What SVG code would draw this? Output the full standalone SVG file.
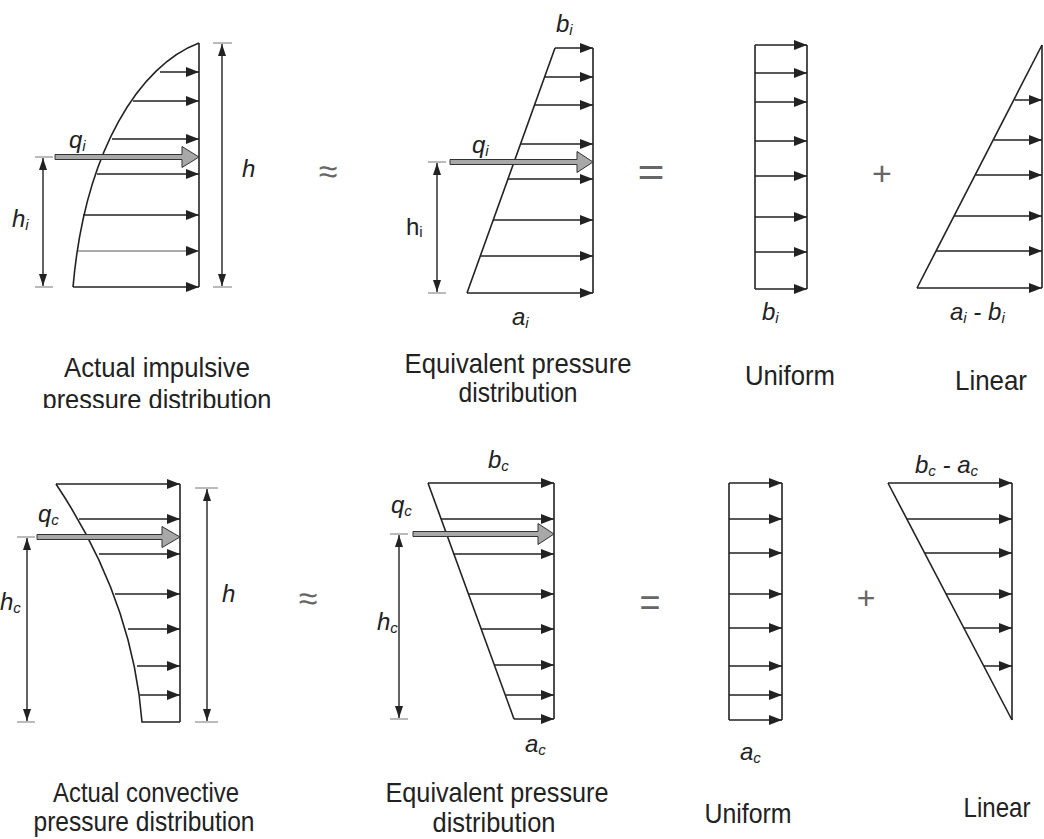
<svg xmlns="http://www.w3.org/2000/svg" width="1044" height="839" viewBox="0 0 1044 839">
<style>
.ln{stroke:#222;stroke-width:1.6;fill:none}
.arr{stroke:#222;stroke-width:1.5;marker-end:url(#ah)}
.thin{stroke:#555;stroke-width:1;marker-end:url(#ah)}
.dim{stroke:#222;stroke-width:1.4;marker-start:url(#dh);marker-end:url(#dh)}
.tick{stroke:#777;stroke-width:1}
.big{fill:#a8a8a8;stroke:#333;stroke-width:1}
.m{font-family:"Liberation Sans",Arial,sans-serif;font-style:italic;font-size:24px;fill:#222}
.up{font-family:"Liberation Sans",Arial,sans-serif;font-size:24px;fill:#222}
.cap{font-family:"Liberation Sans",Arial,sans-serif;font-size:28px;fill:#222;text-anchor:middle}
.op{font-family:"Liberation Sans",Arial,sans-serif;fill:#666;text-anchor:middle}
</style>
<defs>
<marker id="ah" markerUnits="userSpaceOnUse" markerWidth="14" markerHeight="11" refX="13" refY="5" orient="auto"><path d="M0,0 L13,5 L0,10 Z" fill="#222"/></marker>
<marker id="dh" markerUnits="userSpaceOnUse" markerWidth="13" markerHeight="9" refX="12" refY="4" orient="auto-start-reverse"><path d="M0,0 L12,4 L0,8 Z" fill="#222"/></marker>
<clipPath id="cut"><rect x="0" y="0" width="1044" height="408"/></clipPath>
</defs>

<g id="impulsive-actual">
<line class="ln" x1="199" y1="43" x2="199" y2="287"/>
<path class="ln" d="M199,43 C140,65 85,150 73,287"/>
<line class="arr" x1="160" y1="72" x2="199" y2="72"/>
<line class="arr" x1="133" y1="101" x2="199" y2="101"/>
<line class="arr" x1="112" y1="139" x2="199" y2="139"/>
<line class="arr" x1="97" y1="174" x2="199" y2="174"/>
<line class="arr" x1="83" y1="215" x2="199" y2="215"/>
<line class="thin" x1="78" y1="251" x2="199" y2="251"/>
<line class="arr" x1="73" y1="287" x2="199" y2="287"/>
<path class="big" d="M55,154.5 H182 V146.5 L199,157 L182,167.5 V159.5 H55 Z"/>
<line class="tick" x1="35" y1="157" x2="53" y2="157"/>
<line class="tick" x1="35" y1="287" x2="53" y2="287"/>
<line class="dim" x1="43" y1="158" x2="43" y2="286"/>
<line class="tick" x1="213" y1="43" x2="232" y2="43"/>
<line class="tick" x1="213" y1="287" x2="232" y2="287"/>
<line class="dim" x1="222" y1="44" x2="222" y2="286"/>
<text class="m" x="69" y="148">q<tspan font-size="15" dy="3">i</tspan></text>
<text class="m" x="12" y="227">h<tspan font-size="15" dy="3">i</tspan></text>
<text class="m" x="242" y="177" font-size="26">h</text>
<text class="cap" x="157" y="377" textLength="186" lengthAdjust="spacingAndGlyphs">Actual impulsive</text>
<text class="cap" x="157" y="409" textLength="229" lengthAdjust="spacingAndGlyphs" clip-path="url(#cut)">pressure distribution</text>
</g>

<text id="approx-top" class="op" x="328" y="183" font-size="34">≈</text>

<g id="impulsive-equivalent">
<line class="ln" x1="593" y1="48" x2="593" y2="293"/>
<line class="ln" x1="555" y1="48" x2="467" y2="293"/>
<line class="arr" x1="555" y1="48" x2="593" y2="48"/>
<line class="arr" x1="544.6" y1="77" x2="593" y2="77"/>
<line class="arr" x1="534.5" y1="105" x2="593" y2="105"/>
<line class="arr" x1="520.5" y1="144" x2="593" y2="144"/>
<line class="arr" x1="508" y1="179" x2="593" y2="179"/>
<line class="arr" x1="493" y1="220" x2="593" y2="220"/>
<line class="arr" x1="480" y1="256" x2="593" y2="256"/>
<line class="arr" x1="467" y1="293" x2="593" y2="293"/>
<path class="big" d="M450,159.5 H577 V151.5 L593,162 L577,172.5 V164.5 H450 Z"/>
<line class="tick" x1="428" y1="162" x2="446" y2="162"/>
<line class="tick" x1="428" y1="293" x2="446" y2="293"/>
<line class="dim" x1="437" y1="163" x2="437" y2="292"/>
<text class="m" x="556" y="32">b<tspan font-size="15" dy="3">i</tspan></text>
<text class="m" x="472" y="153">q<tspan font-size="15" dy="3">i</tspan></text>
<text class="up" x="406" y="235">h<tspan font-size="15" dy="2">i</tspan></text>
<text class="m" x="512" y="325">a<tspan font-size="15" dy="3">i</tspan></text>
<text class="cap" x="518" y="373" textLength="227" lengthAdjust="spacingAndGlyphs">Equivalent pressure</text>
<text class="cap" x="518" y="402" textLength="119" lengthAdjust="spacingAndGlyphs">distribution</text>
</g>

<text id="equals-top" class="op" x="651" y="186" font-size="40" textLength="27" lengthAdjust="spacingAndGlyphs">=</text>

<g id="impulsive-uniform">
<line class="ln" x1="755" y1="45" x2="755" y2="289"/>
<line class="ln" x1="807" y1="45" x2="807" y2="289"/>
<line class="arr" x1="755" y1="45" x2="807" y2="45"/>
<line class="arr" x1="755" y1="73" x2="807" y2="73"/>
<line class="arr" x1="755" y1="102" x2="807" y2="102"/>
<line class="arr" x1="755" y1="141" x2="807" y2="141"/>
<line class="arr" x1="755" y1="176" x2="807" y2="176"/>
<line class="arr" x1="755" y1="217" x2="807" y2="217"/>
<line class="arr" x1="755" y1="252" x2="807" y2="252"/>
<line class="arr" x1="755" y1="289" x2="807" y2="289"/>
<text class="m" x="762" y="320">b<tspan font-size="15" dy="3">i</tspan></text>
<text class="cap" x="790" y="385" textLength="90" lengthAdjust="spacingAndGlyphs">Uniform</text>
</g>

<text id="plus-top" class="op" x="882" y="185" font-size="34">+</text>

<g id="impulsive-linear">
<line class="ln" x1="1042" y1="45" x2="1042" y2="288"/>
<line class="ln" x1="1042" y1="45" x2="917" y2="288"/>
<line class="arr" x1="1014.5" y1="100" x2="1042" y2="100"/>
<line class="arr" x1="993.7" y1="140" x2="1042" y2="140"/>
<line class="arr" x1="975.6" y1="175" x2="1042" y2="175"/>
<line class="arr" x1="954.3" y1="216" x2="1042" y2="216"/>
<line class="arr" x1="936.2" y1="251" x2="1042" y2="251"/>
<line class="arr" x1="917" y1="288" x2="1042" y2="288"/>
<text class="m" x="950" y="320">a<tspan font-size="15" dy="3">i</tspan><tspan dy="-3"> - b</tspan><tspan font-size="15" dy="3">i</tspan></text>
<text class="cap" x="991" y="390" textLength="72" lengthAdjust="spacingAndGlyphs">Linear</text>
</g>

<g id="convective-actual">
<line class="ln" x1="180" y1="484" x2="180" y2="722"/>
<path class="ln" d="M56,484 C100,550 135,630 142,722 H180"/>
<line class="arr" x1="56" y1="484" x2="180" y2="484"/>
<line class="arr" x1="79" y1="519" x2="180" y2="519"/>
<line class="arr" x1="99" y1="554" x2="180" y2="554"/>
<line class="arr" x1="115" y1="594" x2="180" y2="594"/>
<line class="arr" x1="128" y1="629" x2="180" y2="629"/>
<line class="arr" x1="137" y1="666" x2="180" y2="666"/>
<line class="arr" x1="140" y1="695" x2="180" y2="695"/>
<path class="big" d="M37,534.5 H162 V526.5 L180,537 L162,547.5 V539.5 H37 Z"/>
<line class="tick" x1="17" y1="537" x2="35" y2="537"/>
<line class="tick" x1="17" y1="722" x2="35" y2="722"/>
<line class="dim" x1="27" y1="538" x2="27" y2="721"/>
<line class="tick" x1="195" y1="488" x2="218" y2="488"/>
<line class="tick" x1="195" y1="722" x2="218" y2="722"/>
<line class="dim" x1="207" y1="489" x2="207" y2="721"/>
<text class="m" x="38" y="522">q<tspan font-size="15" dy="3">c</tspan></text>
<text class="m" x="0" y="610">h<tspan font-size="15" dy="3">c</tspan></text>
<text class="m" x="222" y="602" font-size="26">h</text>
<text class="cap" x="146" y="802" font-size="27" textLength="186" lengthAdjust="spacingAndGlyphs">Actual convective</text>
<text class="cap" x="144" y="831" font-size="27" textLength="221" lengthAdjust="spacingAndGlyphs">pressure distribution</text>
</g>

<text id="approx-bottom" class="op" x="308" y="610" font-size="34">≈</text>

<g id="convective-equivalent">
<line class="ln" x1="554" y1="483" x2="554" y2="719"/>
<line class="ln" x1="428" y1="483" x2="514" y2="719"/>
<line class="arr" x1="428" y1="483" x2="554" y2="483"/>
<line class="arr" x1="441" y1="519" x2="554" y2="519"/>
<line class="arr" x1="453.9" y1="554" x2="554" y2="554"/>
<line class="arr" x1="468.4" y1="594" x2="554" y2="594"/>
<line class="arr" x1="481.2" y1="629" x2="554" y2="629"/>
<line class="arr" x1="494.3" y1="665" x2="554" y2="665"/>
<line class="arr" x1="505.3" y1="695" x2="554" y2="695"/>
<line class="arr" x1="514" y1="719" x2="554" y2="719"/>
<path class="big" d="M413,531.5 H538 V523.5 L554,534 L538,544.5 V536.5 H413 Z"/>
<line class="tick" x1="390" y1="534" x2="408" y2="534"/>
<line class="tick" x1="390" y1="719" x2="408" y2="719"/>
<line class="dim" x1="399" y1="535" x2="399" y2="718"/>
<text class="m" x="488" y="468">b<tspan font-size="15" dy="3">c</tspan></text>
<text class="m" x="391" y="513">q<tspan font-size="15" dy="3">c</tspan></text>
<text class="m" x="377" y="630">h<tspan font-size="15" dy="3">c</tspan></text>
<text class="m" x="525" y="752">a<tspan font-size="15" dy="3">c</tspan></text>
<text class="cap" x="497" y="802" font-size="27" textLength="223" lengthAdjust="spacingAndGlyphs">Equivalent pressure</text>
<text class="cap" x="494" y="832" font-size="27" textLength="123" lengthAdjust="spacingAndGlyphs">distribution</text>
</g>

<text id="equals-bottom" class="op" x="650" y="616" font-size="38" textLength="21" lengthAdjust="spacingAndGlyphs">=</text>

<g id="convective-uniform">
<line class="ln" x1="729" y1="483" x2="729" y2="720"/>
<line class="ln" x1="782" y1="483" x2="782" y2="720"/>
<line class="arr" x1="729" y1="483" x2="782" y2="483"/>
<line class="arr" x1="729" y1="519" x2="782" y2="519"/>
<line class="arr" x1="729" y1="553" x2="782" y2="553"/>
<line class="arr" x1="729" y1="594" x2="782" y2="594"/>
<line class="arr" x1="729" y1="628" x2="782" y2="628"/>
<line class="arr" x1="729" y1="666" x2="782" y2="666"/>
<line class="arr" x1="729" y1="695" x2="782" y2="695"/>
<line class="arr" x1="729" y1="720" x2="782" y2="720"/>
<text class="m" x="740" y="760">a<tspan font-size="15" dy="3">c</tspan></text>
<text class="cap" x="748" y="823" textLength="87" lengthAdjust="spacingAndGlyphs">Uniform</text>
</g>

<text id="plus-bottom" class="op" x="866" y="609" font-size="32">+</text>

<g id="convective-linear">
<line class="ln" x1="1012" y1="483" x2="1012" y2="720"/>
<line class="ln" x1="888" y1="483" x2="1012" y2="720"/>
<line class="arr" x1="888" y1="483" x2="1012" y2="483"/>
<line class="arr" x1="906.8" y1="519" x2="1012" y2="519"/>
<line class="arr" x1="924.6" y1="553" x2="1012" y2="553"/>
<line class="arr" x1="946" y1="594" x2="1012" y2="594"/>
<line class="arr" x1="963.9" y1="628" x2="1012" y2="628"/>
<line class="arr" x1="983.7" y1="666" x2="1012" y2="666"/>
<text class="m" x="915" y="473">b<tspan font-size="15" dy="3">c</tspan><tspan dy="-3"> - a</tspan><tspan font-size="15" dy="3">c</tspan></text>
<text class="cap" x="997" y="817" textLength="67" lengthAdjust="spacingAndGlyphs">Linear</text>
</g>
</svg>
